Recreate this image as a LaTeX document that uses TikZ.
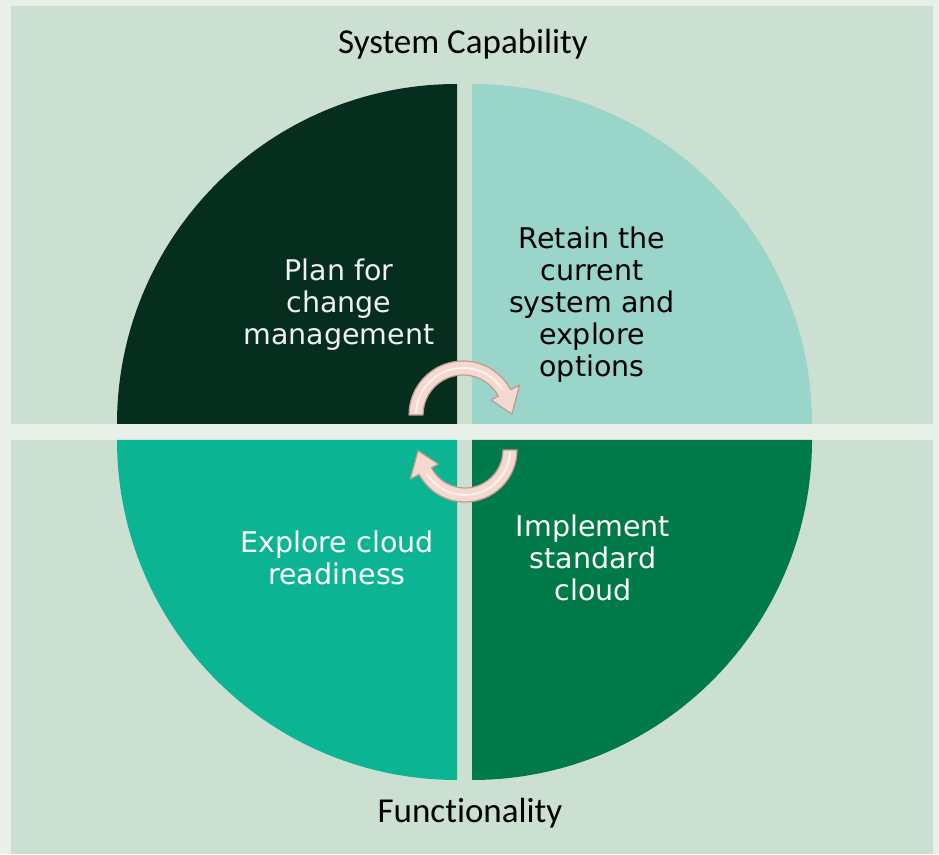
\documentclass[tikz,border=0pt]{standalone}
\usepackage{fontspec}
\setmainfont{DejaVu Sans}
\newfontfamily\titlefont[Ligatures=NoCommon]{Carlito}
\definecolor{outerbg}{HTML}{E9F0EA}
\definecolor{panelbg}{HTML}{CCE0D2}
\definecolor{darkq}{HTML}{052E1E}
\definecolor{paleq}{HTML}{9AD5CA}
\definecolor{brightq}{HTML}{0BB594}
\definecolor{deepq}{HTML}{007A48}
\definecolor{arrowfill}{HTML}{F3D9CF}
\definecolor{arrowedge}{HTML}{BE9A90}
\begin{document}
\begin{tikzpicture}[x=1pt,y=1pt,
  quad/.style={align=center, font=\fontsize{28.5}{32}\selectfont},
  axis/.style={anchor=base, font=\titlefont\fontsize{35}{40}\selectfont, text=black},
  turn/.style={fill=arrowfill, draw=arrowedge, line width=1.2pt, line join=round}]
\fill[outerbg] (0,0) rectangle (939,854);
\useasboundingbox (0,0) rectangle (939,854);
\fill[panelbg] (11,430) rectangle (933,848);
\fill[panelbg] (11,0) rectangle (933,414);

% quadrants
\fill[darkq] (457,430) -- (117,430) arc[start angle=180, end angle=90, radius=340] -- cycle;
\fill[paleq] (472,430) -- (472,770) arc[start angle=90, end angle=0, radius=340] -- cycle;
\fill[brightq] (457,414) -- (117,414) arc[start angle=180, end angle=270, radius=340] -- cycle;
\fill[deepq] (472,414) -- (472,74) arc[start angle=270, end angle=360, radius=340] -- cycle;

\node[axis] (cap) at (463,800) {System Capability};
\node[axis] (func) at (470,32) {Functionality};

\node[quad, text=white!94!black] (plan) at (339,549) {Plan for\\change\\management};
\node[quad, text=black] (retain) at (592,549) {Retain the\\current\\system and\\explore\\options};
\node[quad, text=white] (explore) at (337,296) {Explore cloud\\readiness};
\node[quad, text=white] (impl) at (593,296) {Implement\\standard\\cloud};

% cycle arrows
\begin{scope}[shift={(463,439)}]
\draw[turn] (180:54) arc[start angle=180, end angle=28, radius=54] -- (28:64) -- (1:49)
  -- (28:32) -- (28:40) arc[start angle=28, end angle=180, radius=40] -- cycle;
\draw[white!60!arrowfill, line width=2pt] (178:47) arc[start angle=178, end angle=32, radius=47];
\end{scope}
\begin{scope}[shift={(465,404)}]
\draw[turn] (0:52) arc[start angle=0, end angle=-152, radius=52] -- (-152:62) -- (-179:47)
  -- (-152:30) -- (-152:38) arc[start angle=-152, end angle=0, radius=38] -- cycle;
\draw[white!60!arrowfill, line width=2pt] (-2:45) arc[start angle=-2, end angle=-148, radius=45];
\end{scope}
\end{tikzpicture}
\end{document}
